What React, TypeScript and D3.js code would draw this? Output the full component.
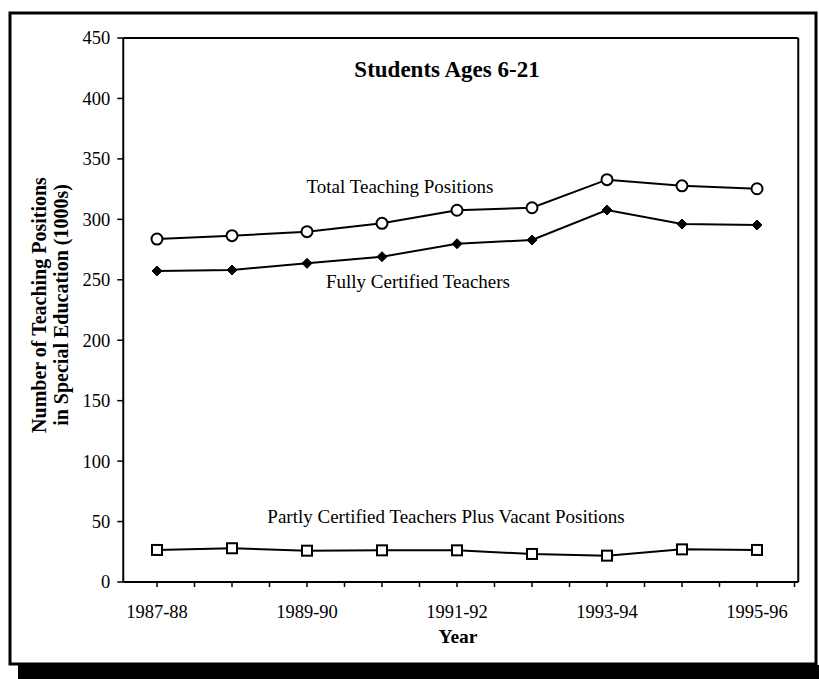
import React from "react";
import * as d3 from "d3";

const years = ["1987-88", "1988-89", "1989-90", "1990-91", "1991-92", "1992-93", "1993-94", "1994-95", "1995-96"];
const totalPositions = [283.7, 286.5, 289.8, 296.7, 307.5, 309.6, 332.8, 327.7, 325.3];
const fullyCertified = [257.3, 258.1, 263.6, 269.1, 279.8, 282.9, 307.7, 296.1, 295.3];
const partlyCertified = [26.5, 27.9, 25.9, 26.2, 26.2, 23.2, 21.8, 27.0, 26.5];
const yTicks = [0, 50, 100, 150, 200, 250, 300, 350, 400, 450];
const xLabelYears = ["1987-88", "1989-90", "1991-92", "1993-94", "1995-96"];

const W = 819;
const H = 679;
const FONT = "'Liberation Serif', 'Times New Roman', serif";

export default function App() {
  const x = d3.scaleLinear().domain([0, 8]).range([157, 757]);
  const y = d3.scaleLinear().domain([0, 450]).range([582, 38]);
  const left = x(-0.45);
  const right = x(8.55);
  const top = y(450);
  const bottom = y(0);

  const line = d3
    .line<number>()
    .x((_, i) => x(i))
    .y((d) => y(d));

  const halfTicks = d3.range(0, 8.51, 0.5);
  const diamond = "M0,-5L5,0L0,5L-5,0Z";

  return (
    <svg width={W} height={H} style={{ position: "absolute", left: 0, top: 0, background: "#fff" }} fontFamily={FONT}>
      <rect x={0} y={0} width={W} height={H} fill="#fff" />
      {/* outer frame */}
      <rect x={10} y={13} width={806} height={651} fill="none" stroke="#000" strokeWidth={3} />
      <rect x={18} y={665} width={801} height={14} fill="#000" />

      {/* plot frame */}
      <line x1={left} x2={right} y1={top} y2={top} stroke="#000" strokeWidth={2} />
      <line x1={right} x2={right} y1={top} y2={bottom} stroke="#000" strokeWidth={2} />
      <line x1={left} x2={left} y1={top} y2={bottom} stroke="#000" strokeWidth={2} />
      <line x1={left} x2={right} y1={bottom} y2={bottom} stroke="#000" strokeWidth={2} />

      {/* y ticks */}
      {yTicks.map((t) => (
        <g key={t}>
          <line x1={left - 6} x2={left} y1={y(t)} y2={y(t)} stroke="#000" strokeWidth={1.5} />
          <text x={left - 13} y={y(t)} dy="0.35em" textAnchor="end" fontSize={18.5}>
            {t}
          </text>
        </g>
      ))}

      {/* x ticks */}
      {halfTicks.map((t) => (
        <line key={t} x1={x(t)} x2={x(t)} y1={bottom} y2={bottom + 5} stroke="#000" strokeWidth={1.5} />
      ))}
      {years.map((yr, i) =>
        xLabelYears.includes(yr) ? (
          <text key={yr} x={x(i)} y={618} textAnchor="middle" fontSize={18.5}>
            {yr}
          </text>
        ) : null
      )}
      <text x={458} y={643} textAnchor="middle" fontSize={19.5} fontWeight="bold">
        Year
      </text>

      {/* y axis title */}
      <g transform="translate(46,305) rotate(-90)">
        <text x={0} y={0} textAnchor="middle" fontSize={20} fontWeight="bold">
          Number of Teaching Positions
        </text>
        <text x={0} y={22} textAnchor="middle" fontSize={20} fontWeight="bold">
          in Special Education (1000s)
        </text>
      </g>

      {/* title */}
      <text x={447} y={77} textAnchor="middle" fontSize={23} fontWeight="bold">
        Students Ages 6-21
      </text>

      {/* series labels */}
      <text x={400} y={193} textAnchor="middle" fontSize={19}>
        Total Teaching Positions
      </text>
      <text x={418} y={288} textAnchor="middle" fontSize={19}>
        Fully Certified Teachers
      </text>
      <text x={446} y={523} textAnchor="middle" fontSize={19}>
        Partly Certified Teachers Plus Vacant Positions
      </text>

      {/* lines */}
      <path d={line(totalPositions) || ""} fill="none" stroke="#000" strokeWidth={2} />
      <path d={line(fullyCertified) || ""} fill="none" stroke="#000" strokeWidth={2} />
      <path d={line(partlyCertified) || ""} fill="none" stroke="#000" strokeWidth={2} />

      {totalPositions.map((v, i) => (
        <circle key={"t" + i} cx={x(i)} cy={y(v)} r={5.5} fill="#fff" stroke="#000" strokeWidth={2} />
      ))}
      {fullyCertified.map((v, i) => (
        <path key={"f" + i} d={diamond} transform={`translate(${x(i)},${y(v)})`} fill="#000" stroke="#000" strokeWidth={1} />
      ))}
      {partlyCertified.map((v, i) => (
        <rect key={"p" + i} x={x(i) - 5} y={y(v) - 5} width={10} height={10} fill="#fff" stroke="#000" strokeWidth={2} />
      ))}
    </svg>
  );
}
